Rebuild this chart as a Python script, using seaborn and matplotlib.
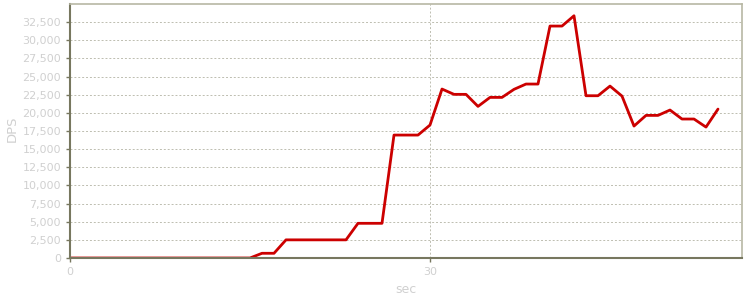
import matplotlib
matplotlib.use("Agg")
import matplotlib.pyplot as plt
import matplotlib.ticker as mticker
import seaborn as sns
import pandas as pd

sec = list(range(0, 55))
dps = [0] * 16 + [650, 650, 2500, 2500, 2500, 2500, 2500, 2500,
       4780, 4780, 4780, 16940, 16940, 16940, 18320,
       23280, 22550, 22550, 20890, 22130, 22130, 23240, 23970, 23970,
       31960, 31960, 33380, 22360, 22360, 23690, 22310, 18180,
       19650, 19650, 20390, 19150, 19150, 18040, 20520]

df = pd.DataFrame({"sec": sec, "DPS": dps})

sns.set_theme(style="white")
plt.rcParams['font.family'] = ['DejaVu Sans']

fig = plt.figure(figsize=(7.5, 3), dpi=100)
ax = fig.add_axes([70/750, 1-258/300, 672/750, 254/300])

sns.lineplot(data=df, x="sec", y="DPS", ax=ax, color="#cc0000", linewidth=2)

ax.set_xlim(0, 56)
ax.set_ylim(0, 35000)
ax.set_yticks(range(0, 35000, 2500))
ax.set_xticks([0, 30])
ax.yaxis.set_major_formatter(mticker.FuncFormatter(lambda v, p: f"{int(v):,}"))

ax.grid(True, axis="both", linestyle=(0, (2, 2)), color="#bdbdb0", linewidth=0.7)
ax.set_axisbelow(True)

for side in ["left", "bottom"]:
    ax.spines[side].set_color("#77775f")
    ax.spines[side].set_linewidth(1.5)
for side in ["top", "right"]:
    ax.spines[side].set_color("#b8b8a4")
    ax.spines[side].set_linewidth(1.2)

ax.tick_params(axis="both", colors="#77775f", labelcolor="#d0d0d0",
               labelsize=8, length=3, width=1, direction="out",
               left=True, bottom=True)
ax.set_xlabel("sec", color="#d0d0d0", fontsize=9, labelpad=4)
ax.set_ylabel("DPS", color="#d0d0d0", fontsize=9.5)
ax.yaxis.set_label_coords(-0.077, 0.51)

fig.savefig("out.png", dpi=100, facecolor="white")
